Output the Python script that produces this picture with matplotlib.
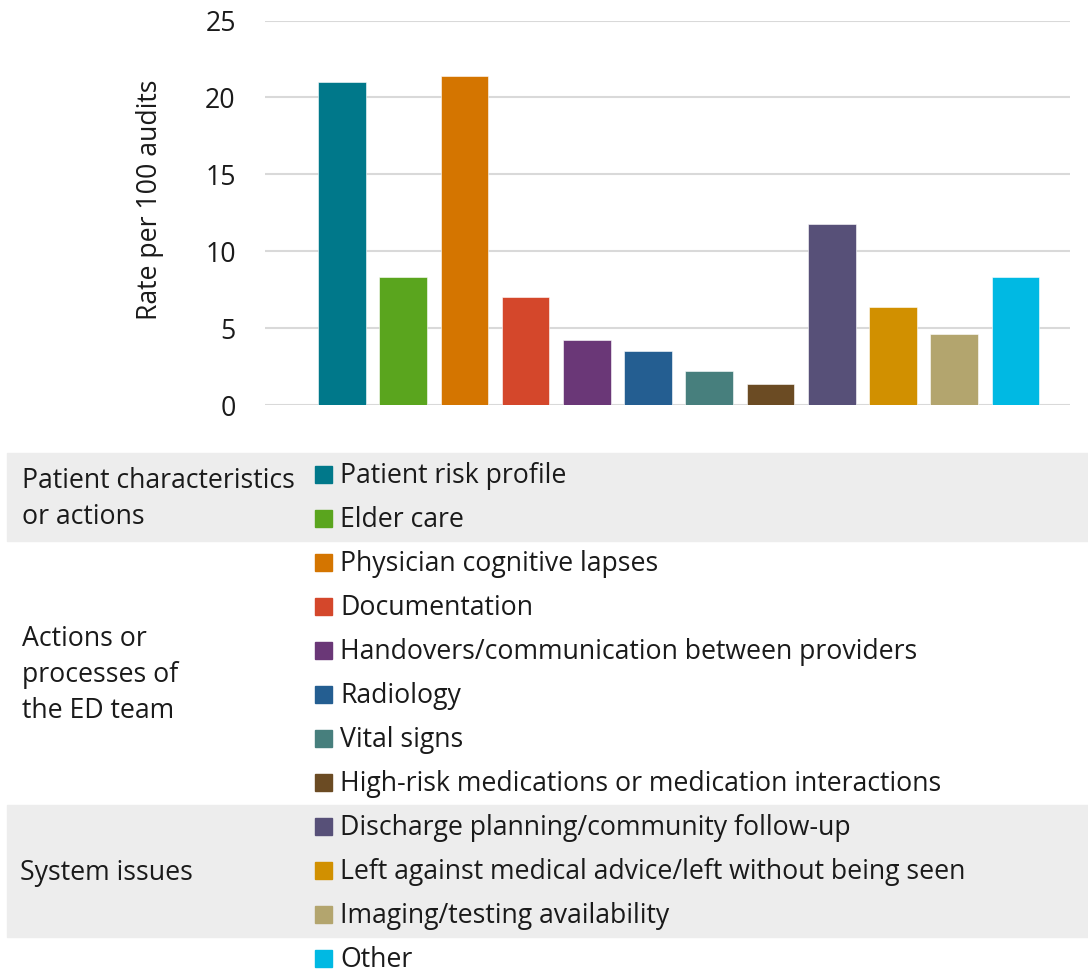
import matplotlib.pyplot as plt
from matplotlib.patches import Rectangle

plt.rcParams['font.family'] = ['Open Sans', 'DejaVu Sans']

# Data
categories = [
    'Patient risk profile',
    'Elder care',
    'Physician cognitive lapses',
    'Documentation',
    'Handovers/communication between providers',
    'Radiology',
    'Vital signs',
    'High-risk medications or medication interactions',
    'Discharge planning/community follow-up',
    'Left against medical advice/left without being seen',
    'Imaging/testing availability',
    'Other',
]
rates = [21.0, 8.3, 21.4, 7.0, 4.2, 3.5, 2.2, 1.35, 11.8, 6.35, 4.6, 8.3]
colors = ['#00788A', '#5AA51E', '#D47500', '#D4472B', '#6A3777', '#245E91',
          '#477F7D', '#6B4B23', '#575078', '#D19000', '#B3A56E', '#00B9E3']
groups = ['Patient characteristics\nor actions',
          'Actions or\nprocesses of\nthe ED team',
          'System issues']
group_sizes = [2, 6, 3]
yticks = [0, 5, 10, 15, 20, 25]

FS = 19.2
W, H = 1088, 972
fig = plt.figure(figsize=(W / 100, H / 100), dpi=100)

# Bar chart in the upper part
ax = fig.add_axes([265 / W, 1 - 405 / H, (1070 - 265) / W, (405 - 20.5) / H])
x = list(range(len(rates)))
ax.bar(x, rates, width=0.78, color=colors, edgecolor='white', linewidth=0.4, zorder=3)
ax.set_ylim(0, 25)
ax.set_xlim(-1.256, 11.89)
ax.set_yticks(yticks)
ax.set_xticks([])
ax.yaxis.grid(True, color='#D9D9D9', linewidth=1.5, zorder=0)
for s in ax.spines.values():
    s.set_visible(False)
ax.tick_params(axis='y', length=0, pad=21, labelsize=FS, labelcolor='#1a1a1a')
ax.set_ylabel('Rate per 100 audits', fontsize=FS, labelpad=30, color='#1a1a1a')
ax.yaxis.label.set_y(0.535)

# Legend table in the lower part (pixel coordinates)
lg = fig.add_axes([0, 0, 1, (H - 440) / H])
lg.set_xlim(0, W)
lg.set_ylim(H, 440)
lg.axis('off')

row0, step = 474, 44
start = 0
for i, (g, n) in enumerate(zip(groups, group_sizes)):
    top = row0 + start * step - 21
    bottom = row0 + (start + n) * step - 21
    if i % 2 == 0:
        lg.add_patch(Rectangle((7, top), W - 7, bottom - top, color='#EDEDED', zorder=0))
    mid = row0 + (start + (n - 1) / 2) * step
    lg.text(22 if i < 2 else 20, mid + 3, g, fontsize=FS, va='center', ha='left',
            linespacing=1.36, color='#1a1a1a')
    start += n

for i, (c, col) in enumerate(zip(categories, colors)):
    y = row0 + i * step
    lg.add_patch(Rectangle((315, y - 8.5), 17, 17, color=col, zorder=2))
    lg.text(340, y + 2, c, fontsize=FS, va='center', ha='left', color='#1a1a1a')

fig.savefig('out.png', dpi=100)
